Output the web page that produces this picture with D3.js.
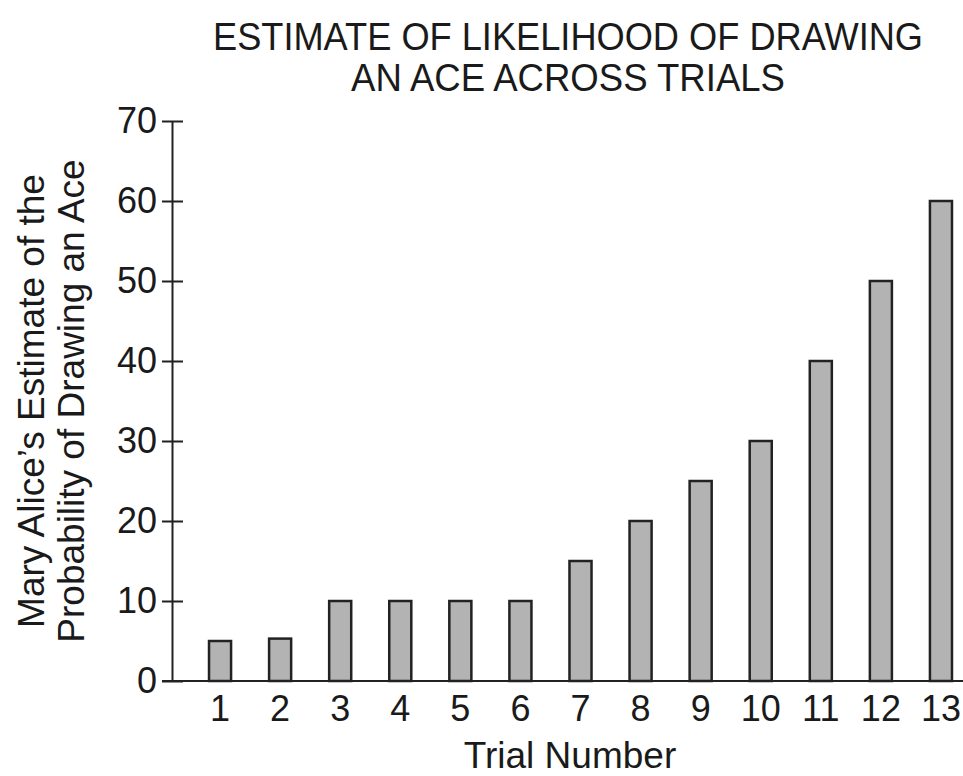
<!DOCTYPE html>
<html>
<head>
<meta charset="utf-8">
<script src="https://cdn.jsdelivr.net/npm/d3@7/dist/d3.min.js"></script>
<style>
  html, body { margin: 0; padding: 0; background: #fff; }
  svg { display: block; }
  text { font-family: "Liberation Sans", Arial, Helvetica, sans-serif; fill: #1a1a1a; }
</style>
</head>
<body>
<svg id="chart" width="963" height="776"></svg>
<script>
// ---- data ----
const trials = ["1","2","3","4","5","6","7","8","9","10","11","12","13"];
const estimates = [5, 5.3, 10, 10, 10, 10, 15, 20, 25, 30, 40, 50, 60];
const yTicks = [0, 10, 20, 30, 40, 50, 60, 70];
const titleLines = ["ESTIMATE OF LIKELIHOOD OF DRAWING", "AN ACE ACROSS TRIALS"];
const yTitleLines = ["Mary Alice\u2019s Estimate of the", "Probability of Drawing an Ace"];
const xTitle = "Trial Number";

// ---- layout ----
const svg = d3.select("#chart");
const axisX = 172, baseY = 681, topY = 121;

const x = d3.scaleBand().domain(trials).range([190, 971])
  .paddingInner(0.633).paddingOuter(0.3165);
const y = d3.scaleLinear().domain([0, 70]).range([baseY, topY]);

// bars
svg.append("g").selectAll("rect").data(estimates).join("rect")
  .attr("x", (d, i) => x(trials[i]))
  .attr("y", d => y(d))
  .attr("width", x.bandwidth())
  .attr("height", d => y(0) - y(d))
  .attr("fill", "#b3b3b3")
  .attr("stroke", "#222")
  .attr("stroke-width", 2.5);

// y axis
const yAxis = svg.append("g").attr("transform", `translate(${axisX},0)`)
  .call(d3.axisLeft(y).tickValues(yTicks).tickSizeInner(10).tickSizeOuter(0).tickPadding(5));
yAxis.select(".domain").attr("stroke", "#222").attr("stroke-width", 2);
yAxis.selectAll(".tick line").attr("x1", 11).attr("stroke", "#222").attr("stroke-width", 2);
yAxis.selectAll(".tick text").attr("font-size", 36).attr("font-family", null).attr("fill", "#1a1a1a");

// x axis
const xAxis = svg.append("g").attr("transform", `translate(0,${baseY})`)
  .call(d3.axisBottom(x).tickSize(0).tickPadding(14));
xAxis.select(".domain").remove();
xAxis.selectAll(".tick text").attr("font-size", 36).attr("font-family", null).attr("fill", "#1a1a1a");

// baseline
svg.append("line").attr("x1", 162).attr("x2", 963).attr("y1", y(0)).attr("y2", y(0))
  .attr("stroke", "#222").attr("stroke-width", 2);

// title
const titleLens = [710, 434];
svg.append("g").selectAll("text").data(titleLines).join("text")
  .attr("x", 568).attr("y", (d, i) => 50 + i * 41)
  .attr("text-anchor", "middle").attr("font-size", 38)
  .attr("textLength", (d, i) => titleLens[i]).attr("lengthAdjust", "spacingAndGlyphs")
  .text(d => d);

// y title
svg.append("g").attr("transform", "translate(0,401)").selectAll("text").data(yTitleLines).join("text")
  .attr("transform", (d, i) => `translate(${44 + i * 40},0) rotate(-90)`)
  .attr("text-anchor", "middle").attr("font-size", 37)
  .text(d => d);

// x title
svg.append("text").attr("x", 570).attr("y", 768).attr("text-anchor", "middle")
  .attr("font-size", 37).text(xTitle);
</script>
</body>
</html>
